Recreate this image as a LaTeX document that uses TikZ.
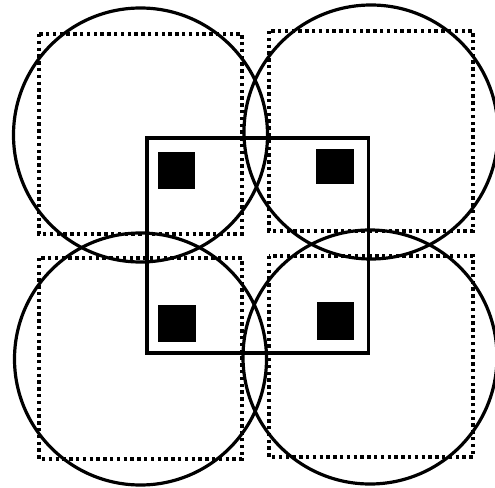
\documentclass[tikz,border=0pt]{standalone}
\begin{document}
\begin{tikzpicture}[x=1pt,y=-1pt,
  ring/.style={draw=black,line width=3.2pt},
  dotbox/.style={draw=black,line width=3.6pt,dash pattern=on 3.4pt off 3.4pt},
  frame/.style={draw=black,line width=3.2pt},
  blk/.style={fill=black}]
\useasboundingbox (0,0) rectangle (495,487);
% dotted squares
\draw[dotbox] (39,34) rectangle (242,234);
\draw[dotbox] (269,31) rectangle (473,231);
\draw[dotbox] (39,258) rectangle (242,459);
\draw[dotbox] (269,256) rectangle (473,457);
% circles
\draw[ring] (140.5,135) circle (127);
\draw[ring] (371,132) circle (127);
\draw[ring] (140.5,359) circle (126);
\draw[ring] (370,357) circle (127);
% central frame
\draw[frame] (147,138) rectangle (368.5,353);
% black squares
\fill[blk] (158,152) rectangle (194.7,188.7);
\fill[blk] (316,149) rectangle (354,184.3);
\fill[blk] (158,305) rectangle (196,341.7);
\fill[blk] (317,302) rectangle (354,339.7);
\end{tikzpicture}
\end{document}
